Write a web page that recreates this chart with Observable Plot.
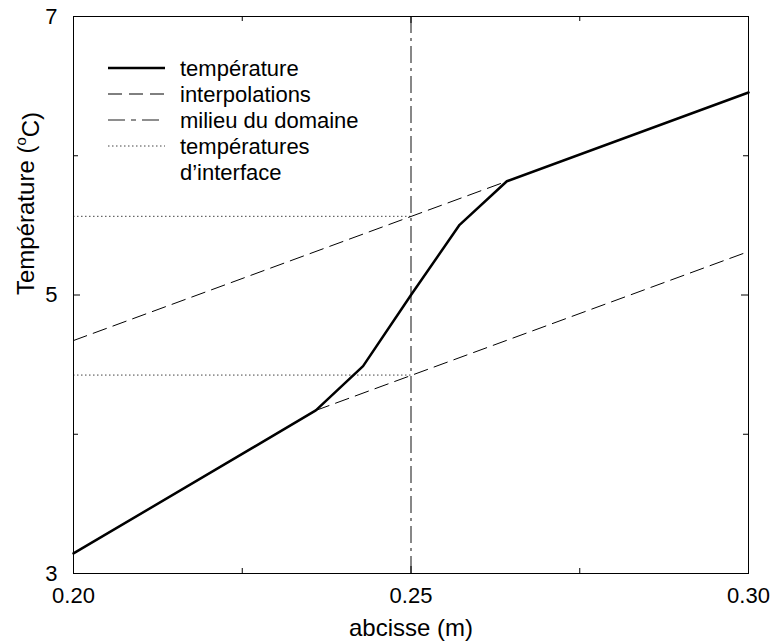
<!DOCTYPE html>
<html>
<head>
<meta charset="utf-8">
<script src="https://cdn.jsdelivr.net/npm/d3@7"></script>
<script src="https://cdn.jsdelivr.net/npm/@observablehq/plot@0.6"></script>
<style>
  body { margin: 0; background: #fff; }
  #chart { position: relative; width: 772px; height: 643px; font-family: "Liberation Sans", Arial, sans-serif; }
  #chart svg.legend { position: absolute; left: 0; top: 0; pointer-events: none; }
</style>
</head>
<body>
<div id="chart"></div>
<script>
// ---- data ----
const tempX = [0.20, 0.2359, 0.2429, 0.25, 0.2572, 0.2642, 0.30];
const tempY = [3.144, 4.171, 4.489, 5.0, 5.504, 5.817, 6.454];

const interpUpperX = [0.20, 0.2642];
const interpUpperY = [4.673, 5.817];
const interpLowerX = [0.2359, 0.30];
const interpLowerY = [4.171, 5.312];

const interfaceT = [5.565, 4.425];
const interfaceX = [0.20, 0.25];

const milieuX = [0.25];

const xMajor = [0.20, 0.25, 0.30];
const xMajorLabels = ["0.20", "0.25", "0.30"];
const xMinor = [0.225, 0.275];
const yMajor = [3, 5, 7];
const yMajorLabels = ["3", "5", "7"];
const yMinor = [4, 6];

const xDomain = [0.20, 0.30];
const yDomain = [3, 7];

const xTitle = "abcisse (m)";
const yTitle = "Température (°C)";

const legendLabels = [["température"], ["interpolations"], ["milieu du domaine"], ["températures", "d’interface"]];

// ---- layout ----
const W = 772, H = 643;
const mL = 73, mR = 24, mT = 16, mB = 70;
const fW = W - mL - mR, fH = H - mT - mB;
const majorLen = 7, minorLen = 5;

const tempData = tempX.map((x, i) => ({x, y: tempY[i]}));
const interpData = [
  ...interpUpperX.map((x, i) => ({x, y: interpUpperY[i], s: "upper"})),
  ...interpLowerX.map((x, i) => ({x, y: interpLowerY[i], s: "lower"}))
];

const plot = Plot.plot({
  width: W, height: H,
  marginLeft: mL, marginRight: mR, marginTop: mT, marginBottom: mB,
  style: {fontFamily: "'Liberation Sans', Arial, sans-serif", fontSize: "22px", background: "#fff", color: "#000", overflow: "visible"},
  x: {domain: xDomain},
  y: {domain: yDomain},
  marks: [
    // interface temperatures (dotted)
    Plot.ruleY(interfaceT, {y: d => d, x1: () => interfaceX[0], x2: () => interfaceX[1], stroke: "#444", strokeWidth: 1, strokeDasharray: "1.5,2.5"}),
    // middle of domain (dash-dot)
    Plot.ruleX(milieuX, {x: d => d, stroke: "#6a6a6a", strokeWidth: 1.6, strokeDasharray: "17,5,3,5"}),
    // interpolations (dashed)
    Plot.line(interpData, {x: "x", y: "y", z: "s", stroke: "#000", strokeWidth: 1, strokeDasharray: "14,7"}),
    // temperature
    Plot.line(tempData, {x: "x", y: "y", stroke: "#000", strokeWidth: 2.5, strokeLinejoin: "miter"}),
    // frame
    Plot.frame({stroke: "#000", strokeWidth: 1}),
    // inward ticks, all four sides
    Plot.tickX(xMajor, {x: d => d, insetTop: fH - majorLen, stroke: "#000"}),
    Plot.tickX(xMajor, {x: d => d, insetBottom: fH - majorLen, stroke: "#000"}),
    Plot.tickX(xMinor, {x: d => d, insetTop: fH - minorLen, stroke: "#000"}),
    Plot.tickX(xMinor, {x: d => d, insetBottom: fH - minorLen, stroke: "#000"}),
    Plot.tickY(yMajor, {y: d => d, insetRight: fW - majorLen, stroke: "#000"}),
    Plot.tickY(yMajor, {y: d => d, insetLeft: fW - majorLen, stroke: "#000"}),
    Plot.tickY(yMinor, {y: d => d, insetRight: fW - minorLen, stroke: "#000"}),
    Plot.tickY(yMinor, {y: d => d, insetLeft: fW - minorLen, stroke: "#000"}),
    // tick labels
    Plot.axisX({ticks: xMajor, tickFormat: d => xMajorLabels[xMajor.indexOf(d)], tickSize: 0, tickPadding: 14, label: null, fontSize: 22}),
    Plot.axisY({ticks: yMajor, tickFormat: d => yMajorLabels[yMajor.indexOf(d)], tickSize: 0, tickPadding: 16, label: null, fontSize: 22}),
    // axis titles
    Plot.text([xTitle], {text: d => d, frameAnchor: "bottom", dy: 55, fontSize: 24, lineAnchor: "middle"}),
    Plot.text([yTitle], {text: d => d, frameAnchor: "left", dx: -47, rotate: -90, fontSize: 24, lineAnchor: "middle"})
  ]
});

// superscript "o" in the y title
d3.select(plot).selectAll("text").filter(function() { return this.textContent === yTitle; }).each(function() {
  const t = d3.select(this);
  t.text(null);
  t.append("tspan").text("Température (");
  t.append("tspan").attr("font-size", "15px").attr("dy", "-0.55em").text("o");
  t.append("tspan").attr("dy", "0.55em").text("C)");
});

const chart = document.getElementById("chart");
chart.appendChild(plot);

// legend overlay
const leg = d3.select(chart).append("svg").attr("class", "legend").attr("width", W).attr("height", H);
const styles = [
  {stroke: "#000", width: 2.5, dash: null},
  {stroke: "#000", width: 1, dash: "14,7"},
  {stroke: "#6a6a6a", width: 1.6, dash: "17,6,5,6"},
  {stroke: "#444", width: 1, dash: "1.5,2.5"}
];
const rowY = [68, 94, 120, 146];
const lineH = 26;
legendLabels.forEach((lines, i) => {
  const y = rowY[i];
  const s = styles[i];
  leg.append("line").attr("x1", 108).attr("x2", 165).attr("y1", y).attr("y2", y)
    .attr("stroke", s.stroke).attr("stroke-width", s.width).attr("stroke-dasharray", s.dash);
  lines.forEach((txt, j) => {
    leg.append("text").attr("x", 180).attr("y", y + j * lineH).attr("dy", "0.35em")
      .attr("font-family", "'Liberation Sans', Arial, sans-serif").attr("font-size", 22).attr("fill", "#000").text(txt);
  });
});
</script>
</body>
</html>
